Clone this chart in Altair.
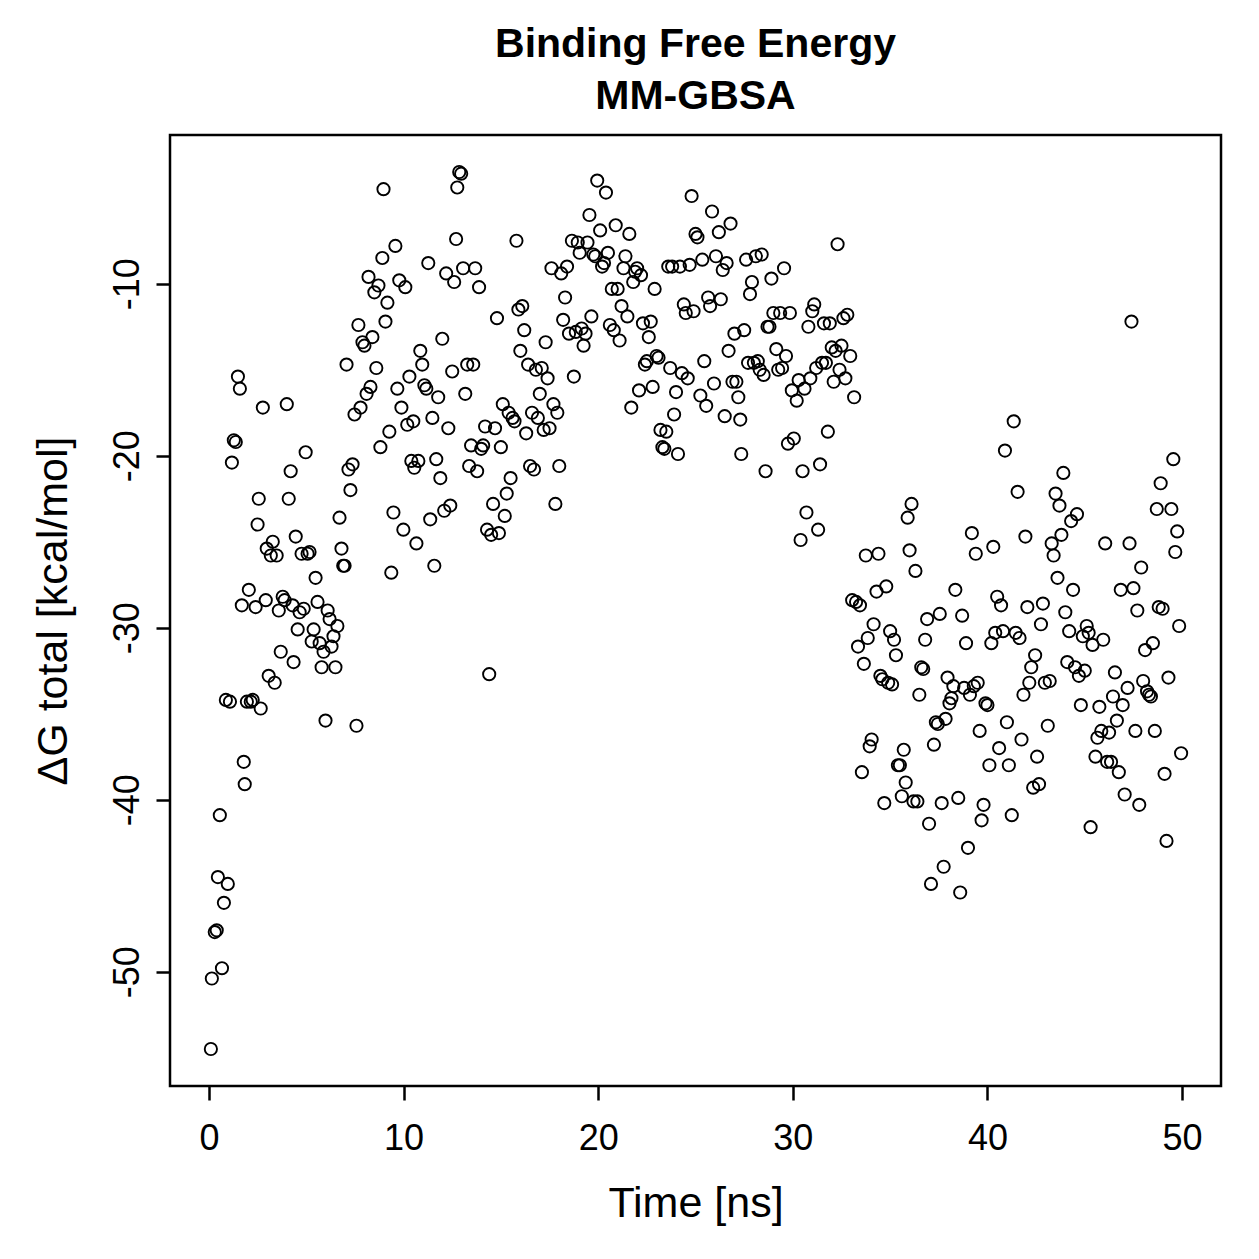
import altair as alt
import pandas as pd

# Equilibration phase (first ~7 ns)
t_rise = [0.1, 0.15, 0.3, 0.4, 0.46, 0.56, 0.67, 0.77, 0.87, 0.97, 1.08, 1.18, 1.28, 1.38, 1.49,
          1.59, 1.69, 1.79, 1.84, 1.95, 2.05, 2.15, 2.25, 2.4, 2.5, 2.56, 2.66, 2.77, 2.92, 2.97,
          3.07, 3.18, 3.28, 3.38, 3.48, 3.59, 3.69, 3.79, 3.89, 4.0, 4.1, 4.2, 4.3, 4.35, 4.46,
          4.56, 4.66, 4.76, 4.87, 4.97, 5.07, 5.17, 5.28, 5.38, 5.48, 5.58, 5.69, 5.79, 5.89, 5.99,
          6.1, 6.2, 6.3, 6.4, 6.5, 6.6, 6.71, 6.81, 6.9, 6.97]
dg_rise = [-54.5, -50.4, -47.7, -47.6, -44.5, -40.9, -49.8, -46.0, -34.2, -44.9, -34.3, -20.4, -19.1,
           -19.2, -15.4, -16.1, -28.7, -37.8, -39.1, -34.3, -27.8, -34.3, -34.2, -28.8, -24.0, -22.5,
           -34.7, -17.2, -28.4, -25.4, -32.8, -25.8, -25.0, -33.2, -25.8, -29.0, -31.4, -28.2, -28.4,
           -17.0, -22.5, -20.9, -28.7, -32.0, -24.7, -30.1, -29.1, -25.7, -28.9, -19.8, -25.7, -25.6,
           -30.8, -30.1, -27.1, -28.5, -30.9, -32.3, -31.4, -35.4, -29.0, -29.5, -31.1, -30.5, -32.3,
           -29.9, -23.6, -25.4, -26.4, -26.4]

# Bound plateau (~7-33 ns)
t_bound = [7.07, 7.17, 7.27, 7.38, 7.48, 7.58, 7.68, 7.79, 7.89, 7.99, 8.1, 8.2, 8.3, 8.4, 8.5, 8.6,
           8.71, 8.81, 8.91, 8.97, 9.07, 9.17, 9.27, 9.37, 9.48, 9.58, 9.68, 9.78, 9.89, 9.99, 10.09,
           10.19, 10.3, 10.4, 10.5, 10.55, 10.66, 10.76, 10.86, 10.96, 11.07, 11.17, 11.27, 11.37,
           11.48, 11.58, 11.68, 11.78, 11.89, 11.99, 12.09, 12.19, 12.3, 12.4, 12.5, 12.6, 12.7,
           12.76, 12.86, 12.96, 13.06, 13.17, 13.27, 13.37, 13.47, 13.58, 13.68, 13.78, 13.88, 13.99,
           14.09, 14.19, 14.29, 14.4, 14.5, 14.6, 14.7, 14.8, 14.9, 15.0, 15.1, 15.2, 15.3, 15.4,
           15.5, 15.6, 15.7, 15.8, 15.9, 16.0, 16.1, 16.2, 16.3, 16.4, 16.5, 16.6, 16.7, 16.8, 16.9,
           17.0, 17.1, 17.2, 17.3, 17.4, 17.5, 17.6, 17.7, 17.8, 17.9, 18.0, 18.1, 18.2, 18.3, 18.4,
           18.5, 18.65, 18.75, 18.85, 18.95, 19.05, 19.15, 19.25, 19.35, 19.45, 19.55, 19.65, 19.75,
           19.85, 19.95, 20.1, 20.2, 20.3, 20.4, 20.5, 20.6, 20.7, 20.8, 20.9, 21.0, 21.1, 21.2, 21.3,
           21.4, 21.5, 21.6, 21.7, 21.8, 21.9, 22.0, 22.1, 22.2, 22.3, 22.4, 22.5, 22.6, 22.7, 22.8,
           22.9, 23.0, 23.1, 23.2, 23.3, 23.4, 23.5, 23.6, 23.7, 23.8, 23.9, 24.0, 24.1, 24.2, 24.3,
           24.4, 24.5, 24.6, 24.7, 24.8, 24.9, 25.0, 25.1, 25.25, 25.35, 25.45, 25.55, 25.65, 25.75,
           25.85, 25.95, 26.05, 26.2, 26.3, 26.4, 26.5, 26.6, 26.7, 26.8, 26.9, 27.0, 27.1, 27.2,
           27.3, 27.35, 27.5, 27.6, 27.7, 27.8, 27.9, 28.0, 28.1, 28.2, 28.3, 28.4, 28.5, 28.6, 28.7,
           28.8, 28.9, 29.0, 29.15, 29.25, 29.35, 29.45, 29.55, 29.65, 29.75, 29.85, 29.95, 30.05,
           30.2, 30.3, 30.4, 30.5, 30.6, 30.7, 30.8, 30.9, 31.0, 31.1, 31.2, 31.3, 31.4, 31.5, 31.6,
           31.7, 31.8, 31.9, 32.0, 32.1, 32.2, 32.3, 32.4, 32.5, 32.6, 32.7, 32.8, 32.95]
dg_bound = [-14.7, -20.8, -22.0, -20.5, -17.6, -35.7, -12.4, -17.2, -13.4, -13.6, -16.4, -9.6, -16.0,
            -13.1, -10.5, -14.9, -10.1, -19.5, -8.5, -4.5, -12.2, -11.1, -18.6, -26.8, -23.3, -7.8,
            -16.1, -9.8, -17.2, -24.3, -10.2, -18.2, -15.4, -20.3, -18.0, -20.7, -25.1, -20.3, -13.9,
            -14.7, -15.9, -16.1, -8.8, -23.7, -17.8, -26.4, -20.2, -16.6, -21.3, -13.2, -23.2, -9.4,
            -18.4, -22.9, -15.1, -9.9, -7.4, -4.4, -3.5, -3.6, -9.1, -16.4, -14.7, -20.6, -19.4,
            -14.7, -9.1, -20.9, -10.2, -19.6, -19.4, -18.3, -24.3, -32.7, -24.6, -22.8, -18.4, -12.0,
            -24.5, -19.5, -17.0, -23.5, -22.2, -17.5, -21.3, -17.8, -18.0, -7.5, -11.5, -13.9, -11.3,
            -12.7, -18.7, -14.7, -20.6, -17.5, -20.8, -15.0, -17.8, -16.4, -14.9, -18.5, -13.4, -15.5,
            -18.4, -9.1, -17.0, -22.8, -17.5, -20.6, -9.4, -12.1, -10.8, -9.0, -12.9, -7.5, -15.4,
            -12.8, -7.6, -8.2, -12.6, -13.6, -12.9, -7.6, -6.0, -11.9, -8.3, -8.4, -4.0, -6.9, -9.0,
            -8.8, -4.7, -8.2, -12.4, -10.3, -12.7, -6.6, -10.3, -13.3, -11.3, -9.1, -8.4, -11.9, -7.1,
            -17.2, -9.9, -9.3, -9.1, -16.2, -9.5, -12.3, -14.7, -14.5, -13.1, -12.2, -16.0, -10.3,
            -14.2, -14.3, -18.5, -19.5, -19.6, -18.6, -9.0, -14.9, -9.0, -17.6, -16.3, -19.9, -9.0,
            -15.2, -11.2, -11.7, -15.5, -8.9, -4.9, -11.6, -7.1, -7.3, -16.5, -8.6, -14.5, -17.1,
            -10.8, -11.3, -5.8, -15.8, -8.4, -7.0, -10.9, -9.2, -17.7, -8.8, -13.9, -6.5, -15.7,
            -12.9, -15.7, -16.6, -17.9, -19.9, -12.7, -8.6, -14.6, -10.6, -9.9, -14.6, -8.4, -14.5,
            -15.0, -8.3, -15.3, -20.9, -12.5, -12.5, -9.7, -11.7, -13.8, -15.0, -11.7, -14.9, -9.1,
            -14.2, -19.3, -11.7, -16.2, -19.0, -16.8, -15.6, -24.9, -20.9, -16.1, -23.3, -12.5, -15.5,
            -11.6, -11.2, -14.9, -24.3, -20.5, -14.6, -12.3, -14.6, -18.6, -12.3, -13.7, -15.7, -13.9,
            -7.7, -15.0, -13.6, -12.0, -15.5, -11.8, -14.2]

# Second state (~33-50 ns)
t_late = [33.05, 33.15, 33.25, 33.35, 33.45, 33.55, 33.65, 33.75, 33.85, 33.95, 34.05, 34.15, 34.3,
          34.4, 34.5, 34.6, 34.7, 34.8, 34.9, 35.0, 35.1, 35.2, 35.3, 35.4, 35.5, 35.6, 35.7, 35.8,
          35.9, 36.0, 36.1, 36.2, 36.3, 36.4, 36.5, 36.6, 36.7, 36.8, 36.9, 37.0, 37.1, 37.25, 37.35,
          37.45, 37.55, 37.65, 37.75, 37.85, 37.95, 38.05, 38.15, 38.25, 38.35, 38.5, 38.6, 38.7,
          38.8, 38.9, 39.0, 39.1, 39.2, 39.3, 39.4, 39.5, 39.6, 39.7, 39.8, 39.9, 40.0, 40.1, 40.2,
          40.3, 40.4, 40.5, 40.6, 40.7, 40.8, 40.9, 41.0, 41.1, 41.25, 41.35, 41.45, 41.55, 41.65,
          41.75, 41.85, 41.95, 42.05, 42.15, 42.25, 42.35, 42.45, 42.55, 42.65, 42.75, 42.85, 42.95,
          43.1, 43.2, 43.3, 43.4, 43.5, 43.6, 43.7, 43.8, 43.9, 44.0, 44.1, 44.2, 44.3, 44.4, 44.5,
          44.6, 44.7, 44.8, 44.9, 45.0, 45.1, 45.2, 45.3, 45.4, 45.55, 45.65, 45.75, 45.85, 45.95,
          46.05, 46.15, 46.25, 46.35, 46.45, 46.55, 46.65, 46.75, 46.85, 46.95, 47.05, 47.2, 47.3,
          47.4, 47.5, 47.6, 47.7, 47.8, 47.9, 48.0, 48.1, 48.2, 48.3, 48.4, 48.5, 48.6, 48.7, 48.8,
          48.9, 49.0, 49.1, 49.2, 49.3, 49.45, 49.55, 49.65, 49.75, 49.85, 49.95]
dg_late = [-28.4, -16.6, -28.5, -31.1, -28.7, -38.4, -32.1, -25.8, -30.6, -36.9, -36.5, -29.8, -27.9,
           -25.7, -32.8, -33.0, -40.2, -27.6, -33.2, -30.2, -33.3, -30.7, -31.6, -38.0, -38.0, -39.8,
           -37.1, -39.0, -23.6, -25.5, -22.8, -40.1, -26.7, -40.1, -33.9, -32.3, -32.4, -30.7, -29.5,
           -41.4, -44.9, -36.8, -35.5, -35.6, -29.2, -40.2, -43.9, -35.3, -32.9, -34.4, -34.1, -33.4,
           -27.8, -39.9, -45.4, -29.3, -33.5, -30.9, -42.8, -33.9, -24.5, -33.4, -25.7, -33.2, -36.0,
           -41.2, -40.3, -34.4, -34.5, -38.0, -30.9, -25.3, -30.3, -28.2, -37.0, -28.7, -30.2, -19.7,
           -35.5, -38.0, -40.9, -18.0, -30.3, -22.1, -30.6, -36.5, -33.9, -24.7, -28.8, -33.2, -32.3,
           -39.3, -31.6, -37.5, -39.1, -29.8, -28.6, -33.2, -35.7, -33.1, -25.1, -25.8, -22.2, -27.1,
           -22.9, -24.6, -21.0, -29.1, -32.0, -30.2, -23.8, -27.8, -32.3, -23.4, -32.8, -34.5, -30.5,
           -32.5, -29.9, -30.3, -41.6, -31.0, -37.5, -36.4, -34.6, -36.0, -30.7, -25.1, -37.8, -36.1,
           -37.8, -34.0, -32.6, -35.4, -38.4, -27.8, -34.5, -39.7, -33.5, -25.1, -12.2, -27.7, -36.0,
           -29.0, -40.3, -26.5, -33.1, -31.3, -33.7, -33.9, -34.0, -30.9, -36.0, -23.1, -28.8, -21.6,
           -28.9, -38.5, -42.4, -32.9, -23.1, -20.2, -25.6, -24.4, -29.9, -37.3]

x_ticks = [0, 10, 20, 30, 40, 50]
y_ticks = [-50, -40, -30, -20, -10]

df = pd.DataFrame({
    "time": t_rise + t_bound + t_late,
    "dg": dg_rise + dg_bound + dg_late,
})

FONT = "Liberation Sans"

points = alt.Chart(df).mark_point(
    shape="circle", filled=False, color="black", size=150, strokeWidth=1.9, opacity=1
).encode(
    x=alt.X(
        "time:Q",
        scale=alt.Scale(domain=[-2, 52], nice=False, zero=False),
        axis=alt.Axis(
            values=x_ticks, title="Time [ns]", labelPadding=49, labelBaseline="alphabetic",
            titleX=525.5, titleY=130, titleBaseline="alphabetic", titleAlign="center",
            titleAnchor="middle",
        ),
    ),
    y=alt.Y(
        "dg:Q",
        scale=alt.Scale(domain=[-56.65, -1.35], nice=False, zero=False),
        axis=alt.Axis(
            values=y_ticks, title="ΔG total [kcal/mol]", labelAngle=270,
            labelAlign="center", labelBaseline="alphabetic", labelPadding=18,
            labelExpr="'' + datum.value",
            titleAngle=270, titleX=-104, titleY=475.5, titleBaseline="alphabetic",
            titleAlign="center", titleAnchor="middle",
        ),
    ),
)

chart = points.properties(
    width=1051,
    height=951,
    background="white",
    autosize=alt.AutoSizeParams(type="none"),
    padding={"left": 170, "top": 135, "right": 38, "bottom": 173},
    title=alt.TitleParams(
        text=["Binding Free Energy", "MM-GBSA"],
        anchor="middle", frame="group", fontSize=41, fontWeight="bold", font=FONT,
        color="black", lineHeight=52, offset=28, dy=43, baseline="alphabetic",
    ),
).configure_view(
    stroke="black", strokeWidth=2.5, fill="white"
).configure_axis(
    domain=False, grid=False, ticks=True, tickColor="black", tickWidth=2.5, tickSize=14,
    labelFont=FONT, labelFontSize=36, labelColor="black",
    titleFont=FONT, titleFontSize=43, titleFontWeight="normal", titleColor="black",
)

chart.save("out.html", embed_options={"renderer": "svg", "actions": False})
